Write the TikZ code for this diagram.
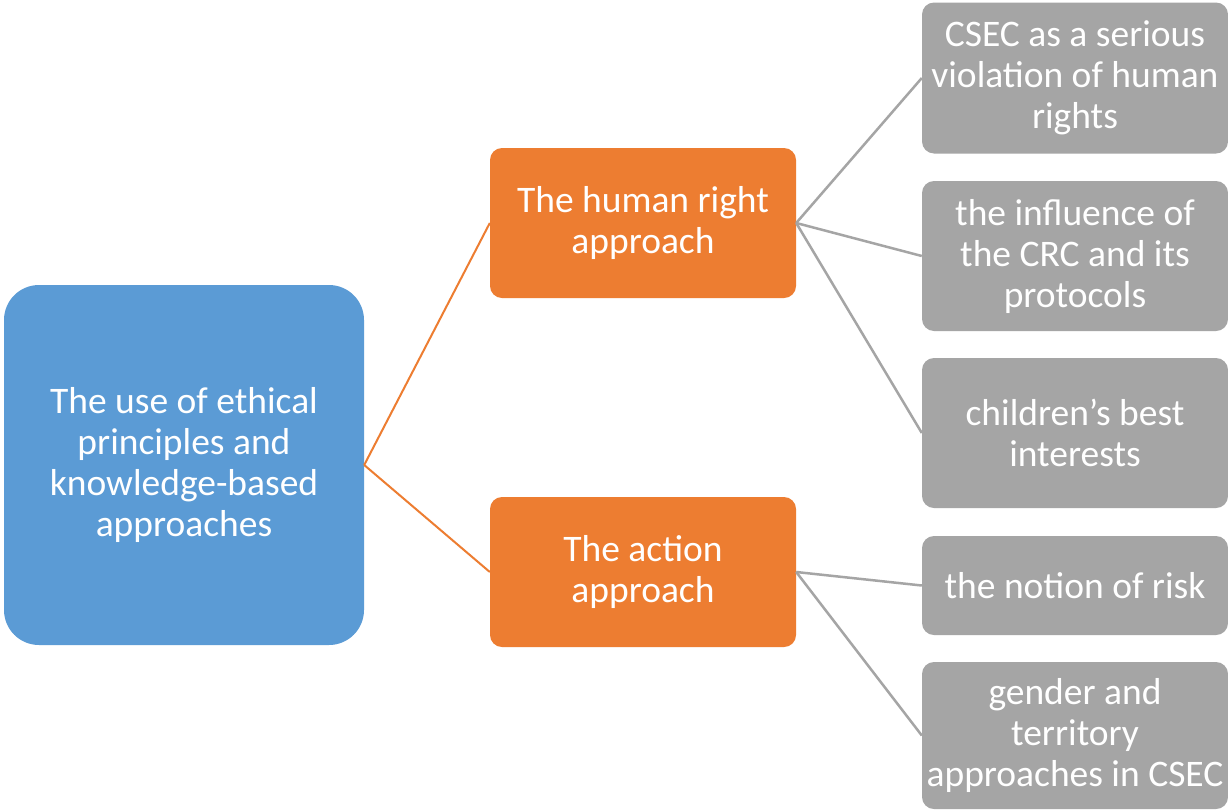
\documentclass[tikz,border=0pt]{standalone}
\usepackage{fontspec}
\setmainfont{Carlito}
\definecolor{cblue}{HTML}{5B9BD5}
\definecolor{corange}{HTML}{ED7D31}
\definecolor{cgray}{HTML}{A5A5A5}
\begin{document}
\begin{tikzpicture}[x=1pt,y=-1pt,
  box/.style={inner sep=0pt, align=center, text=white, font=\fontsize{37.5}{41}\selectfont},
  rootbox/.style={box, fill=cblue, rounded corners=35pt, minimum width=360pt, minimum height=360pt},
  midbox/.style={box, fill=corange, rounded corners=12pt, minimum width=306pt, minimum height=150pt},
  leafbox/.style={box, fill=cgray, rounded corners=12pt, minimum width=306pt},
  olink/.style={draw=corange, line width=2pt},
  glink/.style={draw=cgray, line width=2.5pt}]
\useasboundingbox (0,0) rectangle (1228,809);
\fill[white] (0,0) rectangle (1228,809);
\node[rootbox] (root) at (184,465) {The use of ethical\\principles and\\knowledge-based\\approaches};
\node[midbox] (hr) at (643,223) {The human right\\approach};
\node[midbox] (act) at (643,572) {The action\\approach};
\node[leafbox, minimum height=151pt] (l1) at (1075,78) {CSEC as a serious\\violation of human\\rights};
\node[leafbox, minimum height=150pt] (l2) at (1075,256) {the influence of\\the CRC and its\\protocols};
\node[leafbox, minimum height=150pt] (l3) at (1075,433) {children’s best\\interests};
\node[leafbox, minimum height=99pt] (l4) at (1075,585.5) {the notion of risk};
\node[leafbox, minimum height=147pt] (l5) at (1075,735.5) {gender and\\territory\\approaches in CSEC};
\draw[olink] (root.east) -- (hr.west);
\draw[olink] (root.east) -- (act.west);
\draw[glink] (hr.east) -- (l1.west);
\draw[glink] (hr.east) -- (l2.west);
\draw[glink] (hr.east) -- (l3.west);
\draw[glink] (act.east) -- (l4.west);
\draw[glink] (act.east) -- (l5.west);
\end{tikzpicture}
\end{document}
